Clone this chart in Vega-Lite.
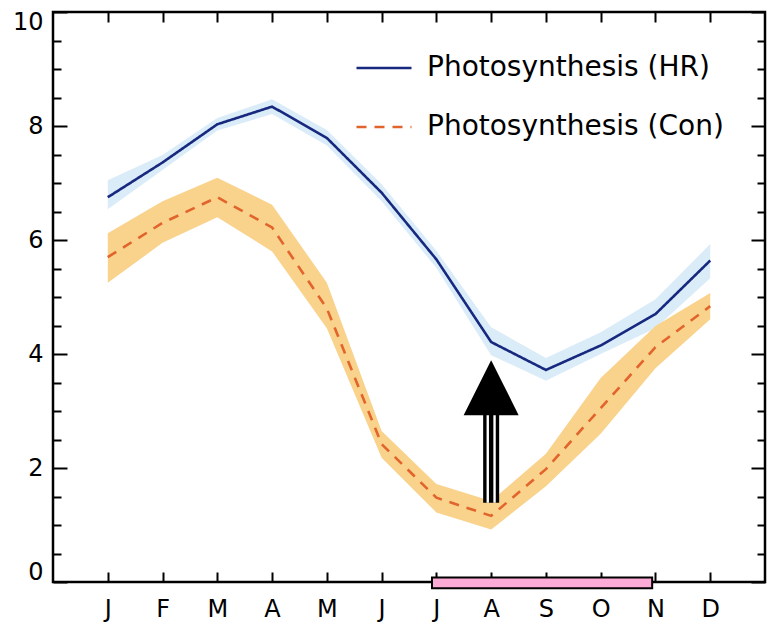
{
  "$schema": "https://vega.github.io/schema/vega-lite/v6.json",
  "width": 712,
  "height": 570,
  "autosize": {"type": "none"},
  "padding": {"left": 53, "top": 12, "right": 3, "bottom": 48},
  "background": "white",
  "config": {
    "view": {"stroke": "black", "strokeWidth": 2.5},
    "font": "DejaVu Sans",
    "axis": {
      "domain": false,
      "grid": false,
      "title": null,
      "tickColor": "black",
      "tickWidth": 2,
      "labelColor": "black",
      "labelFont": "DejaVu Sans"
    }
  },
  "datasets": {
    "photo": [
      {"month": 1, "series": "Photosynthesis (HR)", "value": 6.75, "lo": 6.54, "hi": 7.05},
      {"month": 2, "series": "Photosynthesis (HR)", "value": 7.36, "lo": 7.23, "hi": 7.49},
      {"month": 3, "series": "Photosynthesis (HR)", "value": 8.03, "lo": 7.92, "hi": 8.14},
      {"month": 4, "series": "Photosynthesis (HR)", "value": 8.34, "lo": 8.21, "hi": 8.47},
      {"month": 5, "series": "Photosynthesis (HR)", "value": 7.79, "lo": 7.66, "hi": 7.93},
      {"month": 6, "series": "Photosynthesis (HR)", "value": 6.83, "lo": 6.68, "hi": 6.98},
      {"month": 7, "series": "Photosynthesis (HR)", "value": 5.66, "lo": 5.51, "hi": 5.81},
      {"month": 8, "series": "Photosynthesis (HR)", "value": 4.21, "lo": 3.98, "hi": 4.47},
      {"month": 9, "series": "Photosynthesis (HR)", "value": 3.72, "lo": 3.53, "hi": 3.93},
      {"month": 10, "series": "Photosynthesis (HR)", "value": 4.15, "lo": 4.0, "hi": 4.38},
      {"month": 11, "series": "Photosynthesis (HR)", "value": 4.7, "lo": 4.45, "hi": 4.96},
      {"month": 12, "series": "Photosynthesis (HR)", "value": 5.64, "lo": 5.33, "hi": 5.93},
      {"month": 1, "series": "Photosynthesis (Con)", "value": 5.7, "lo": 5.25, "hi": 6.12},
      {"month": 2, "series": "Photosynthesis (Con)", "value": 6.3, "lo": 5.95, "hi": 6.68},
      {"month": 3, "series": "Photosynthesis (Con)", "value": 6.75, "lo": 6.4, "hi": 7.09},
      {"month": 4, "series": "Photosynthesis (Con)", "value": 6.22, "lo": 5.8, "hi": 6.62},
      {"month": 5, "series": "Photosynthesis (Con)", "value": 4.8, "lo": 4.45, "hi": 5.25},
      {"month": 6, "series": "Photosynthesis (Con)", "value": 2.42, "lo": 2.18, "hi": 2.65},
      {"month": 7, "series": "Photosynthesis (Con)", "value": 1.48, "lo": 1.22, "hi": 1.72},
      {"month": 8, "series": "Photosynthesis (Con)", "value": 1.16, "lo": 0.92, "hi": 1.42},
      {"month": 9, "series": "Photosynthesis (Con)", "value": 1.98, "lo": 1.68, "hi": 2.25},
      {"month": 10, "series": "Photosynthesis (Con)", "value": 3.05, "lo": 2.6, "hi": 3.58},
      {"month": 11, "series": "Photosynthesis (Con)", "value": 4.12, "lo": 3.75, "hi": 4.49},
      {"month": 12, "series": "Photosynthesis (Con)", "value": 4.84, "lo": 4.61, "hi": 5.07}
    ],
    "period": [
      {"start": 6.92, "end": 10.94, "bottom": -0.11, "top": 0.08}
    ],
    "arrow": [
      {"month": 8, "from": 1.39, "to": 2.93, "head": 3.41}
    ]
  },
  "resolve": {"axis": {"x": "independent", "y": "independent"}},
  "layer": [
    {
      "data": {"name": "photo"},
      "transform": [{"filter": "datum.series === 'Photosynthesis (HR)'"}],
      "mark": {"type": "area", "color": "#dbecf9", "opacity": 1},
      "encoding": {
        "x": {
          "field": "month", "type": "quantitative",
          "scale": {"domain": [0, 13], "nice": false, "zero": false},
          "axis": {
            "orient": "bottom",
            "values": [1, 2, 3, 4, 5, 6, 7, 8, 9, 10, 11, 12],
            "labelExpr": "['J','F','M','A','M','J','J','A','S','O','N','D'][datum.value - 1]",
            "tickSize": -10,
            "labelFontSize": 24,
            "labelPadding": 25
          }
        },
        "y": {
          "field": "lo", "type": "quantitative",
          "scale": {"domain": [0, 10], "nice": false},
          "axis": {
            "orient": "left",
            "values": [0, 2, 4, 6, 8, 10],
            "tickSize": -14,
            "labelFontSize": 24,
            "labelPadding": 24,
            "labelFlush": true,
            "labelFlushOffset": 2
          }
        },
        "y2": {"field": "hi"}
      }
    },
    {
      "data": {"name": "photo"},
      "transform": [{"filter": "datum.series === 'Photosynthesis (Con)'"}],
      "mark": {"type": "area", "color": "#f9d28b", "opacity": 1},
      "encoding": {
        "x": {
          "field": "month", "type": "quantitative",
          "axis": {
            "orient": "top",
            "values": [1, 2, 3, 4, 5, 6, 7, 8, 9, 10, 11, 12],
            "labels": false,
            "tickSize": -10
          }
        },
        "y": {
          "field": "lo", "type": "quantitative",
          "axis": {
            "orient": "right",
            "values": [0, 2, 4, 6, 8, 10],
            "labels": false,
            "tickSize": -14
          }
        },
        "y2": {"field": "hi"}
      }
    },
    {
      "data": {"name": "photo"},
      "mark": {"type": "line", "strokeWidth": 2.6},
      "encoding": {
        "x": {"field": "month", "type": "quantitative", "axis": null},
        "y": {
          "field": "value", "type": "quantitative",
          "axis": {
            "orient": "left",
            "values": [0.5, 1, 1.5, 2.5, 3, 3.5, 4.5, 5, 5.5, 6.5, 7, 7.5, 8.5, 9, 9.5],
            "labels": false,
            "tickSize": -8
          }
        },
        "color": {
          "field": "series", "type": "nominal",
          "scale": {
            "domain": ["Photosynthesis (HR)", "Photosynthesis (Con)"],
            "range": ["#17287f", "#e2642d"]
          },
          "legend": {
            "title": null,
            "orient": "none",
            "legendX": 302,
            "legendY": 27,
            "symbolType": "stroke",
            "symbolSize": 3025,
            "symbolStrokeWidth": 2.6,
            "labelFontSize": 28,
            "labelFont": "DejaVu Sans",
            "labelColor": "black",
            "labelLimit": 500,
            "labelOffset": 14,
            "rowPadding": 16
          }
        },
        "strokeDash": {
          "field": "series", "type": "nominal",
          "scale": {
            "domain": ["Photosynthesis (HR)", "Photosynthesis (Con)"],
            "range": [[1, 0], [10, 8]]
          },
          "legend": {
            "title": null,
            "orient": "none",
            "legendX": 302,
            "legendY": 27,
            "symbolType": "stroke",
            "symbolSize": 3025,
            "symbolStrokeWidth": 2.6,
            "labelFontSize": 28,
            "labelFont": "DejaVu Sans",
            "labelColor": "black",
            "labelLimit": 500,
            "labelOffset": 14,
            "rowPadding": 16
          }
        }
      }
    },
    {
      "data": {"name": "period"},
      "mark": {"type": "rect", "color": "#fcaad6", "stroke": "black", "strokeWidth": 2, "clip": false},
      "encoding": {
        "x": {"field": "start", "type": "quantitative", "axis": null},
        "x2": {"field": "end"},
        "y": {
          "field": "bottom", "type": "quantitative",
          "axis": {
            "orient": "right",
            "values": [0.5, 1, 1.5, 2.5, 3, 3.5, 4.5, 5, 5.5, 6.5, 7, 7.5, 8.5, 9, 9.5],
            "labels": false,
            "tickSize": -8
          }
        },
        "y2": {"field": "top"}
      }
    },
    {
      "data": {"name": "arrow"},
      "mark": {"type": "rule", "color": "black", "strokeWidth": 16},
      "encoding": {
        "x": {"field": "month", "type": "quantitative", "axis": null},
        "y": {"field": "from", "type": "quantitative", "axis": null},
        "y2": {"field": "to"}
      }
    },
    {
      "data": {"name": "arrow"},
      "mark": {"type": "rule", "color": "white", "strokeWidth": 2.4, "xOffset": -3.4},
      "encoding": {
        "x": {"field": "month", "type": "quantitative", "axis": null},
        "y": {"field": "from", "type": "quantitative", "axis": null},
        "y2": {"field": "to"}
      }
    },
    {
      "data": {"name": "arrow"},
      "mark": {"type": "rule", "color": "white", "strokeWidth": 2.4, "xOffset": 3.4},
      "encoding": {
        "x": {"field": "month", "type": "quantitative", "axis": null},
        "y": {"field": "from", "type": "quantitative", "axis": null},
        "y2": {"field": "to"}
      }
    },
    {
      "data": {"name": "arrow"},
      "mark": {"type": "point", "shape": "M0,-1L1,1L-1,1Z", "filled": true, "color": "black", "opacity": 1, "size": 3025, "strokeWidth": 0},
      "encoding": {
        "x": {"field": "month", "type": "quantitative", "axis": null},
        "y": {"field": "head", "type": "quantitative", "axis": null}
      }
    }
  ]
}
